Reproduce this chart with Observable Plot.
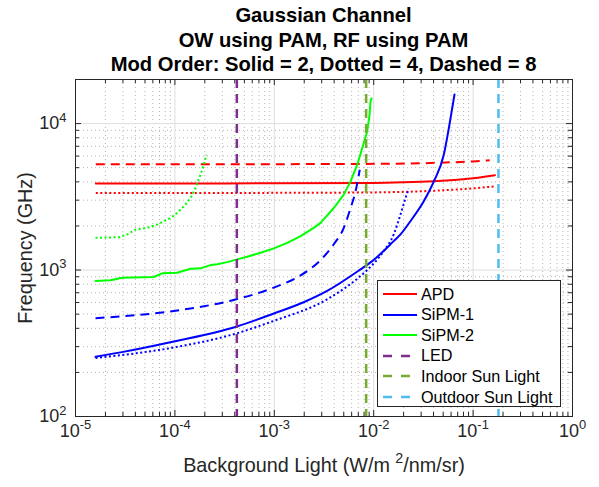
<!DOCTYPE html>
<html><head><meta charset="utf-8">
<script src="https://cdn.jsdelivr.net/npm/d3@7"></script>
<script src="https://cdn.jsdelivr.net/npm/@observablehq/plot@0.6"></script>
<style>
body{margin:0;background:#fff;font-family:"Liberation Sans",Arial,Helvetica,sans-serif;}
#wrap{position:relative;width:599px;height:487px;overflow:hidden;}
#title{position:relative;height:74px;}
#title div{position:absolute;left:75px;width:497px;text-align:center;white-space:nowrap;font-weight:bold;font-size:20.2px;line-height:25px;color:#000;}
#chart svg{display:block;}
#legend{position:absolute;left:377px;top:280px;width:184px;height:127px;border:1px solid #262626;background:#fff;box-sizing:border-box;}
#legend .row{position:absolute;left:0;height:20px;display:flex;align-items:center;font-size:16.2px;color:#000;white-space:nowrap;}
#legend svg{margin-left:5px;margin-right:4px;}
</style></head><body>
<div id="wrap">
  <div id="title"></div>
  <div id="chart"></div>
  <div id="legend"></div>
</div>
<script>
// ---------- text ----------
const titleLines = ["Gaussian Channel", "OW using PAM, RF using PAM", "Mod Order: Solid = 2, Dotted = 4, Dashed = 8"];
const xLabel = "Background Light (W/m ^{2}/nm/sr)";
const yLabel = "Frequency (GHz)";
const xMajor = [1e-5, 1e-4, 1e-3, 1e-2, 1e-1, 1];
const xMajorLabels = ["10^{-5}", "10^{-4}", "10^{-3}", "10^{-2}", "10^{-1}", "10^{0}"];
const yMajor = [1e2, 1e3, 1e4];
const yMajorLabels = ["10^{2}", "10^{3}", "10^{4}"];
const minorMultipliers = [2, 3, 4, 5, 6, 7, 8, 9];

// ---------- data: [background light, frequency] ----------
const apdSolid = [[1.6e-5,3905],[1e-4,3905],[1e-3,3910],[1e-2,3930],[2e-2,3970],[4e-2,4040],[7e-2,4140],[0.1,4230],[0.13,4330],[0.166,4440]];
const apdDotted = [[1.6e-5,3360],[1e-4,3360],[1e-3,3365],[1e-2,3390],[3e-2,3450],[6e-2,3530],[0.1,3610],[0.166,3730]];
const apdDashed = [[1.6e-5,5280],[1e-4,5280],[1e-3,5285],[1e-2,5310],[3e-2,5360],[6e-2,5440],[0.1,5520],[0.147,5610]];

const sipm1Solid = [[1.59e-5,256],[2.84e-5,274],[9.75e-5,325],[4.14e-4,410],[9.9e-4,505],[2e-3,605],[3.4e-3,720],[7.36e-3,1010],[9.66e-3,1150],[0.0159,1575],[0.0186,1750],[0.0234,2155],[0.0319,2945],[0.0403,4030],[0.0507,6120],[0.057,9290],[0.0616,12700],[0.065,15800]];
const sipm1Dotted = [[1.59e-5,251],[9.75e-5,296],[4.14e-4,369],[9.9e-4,450],[3.4e-3,631],[7.36e-3,910],[8.6e-3,1000],[0.0126,1345],[0.0159,1750],[0.0186,2390],[0.0209,3100],[0.0225,3600]];
const sipm1Dashed = [[1.59e-5,469],[9.75e-5,526],[4.14e-4,631],[9.9e-4,759],[1.84e-3,920],[2.92e-3,1170],[3.97e-3,1500],[5.0e-3,1940],[5.85e-3,2650],[6.56e-3,3440],[7.24e-3,4840]];

const sipm2Solid = [[1.59e-5,842],[2.25e-5,851],[2.95e-5,887],[6.14e-5,896],[7.44e-5,950],[1.05e-4,959],[1.44e-4,1021],[1.81e-4,1027],[2.28e-4,1081],[2.67e-4,1094],[3.36e-4,1133],[4.24e-4,1183],[5.33e-4,1231],[7.26e-4,1312],[9.89e-4,1405],[1.35e-3,1534],[1.84e-3,1703],[2.49e-3,1940],[2.92e-3,2098],[3.97e-3,2653],[5.0e-3,3273],[5.85e-3,4030],[6.83e-3,5236],[7.66e-3,6792],[8.6e-3,8825],[9.08e-3,11450],[9.29e-3,14100],[9.51e-3,14860]];
const sipm2Dotted = [[1.59e-5,1660],[2.73e-5,1676],[3.31e-5,1749],[4.02e-5,1891],[5.26e-5,1940],[6.64e-5,2046],[9.04e-5,2269],[1.01e-4,2393],[1.23e-4,2725],[1.44e-4,3104],[1.61e-4,3631],[1.81e-4,4477],[1.95e-4,5236],[2.08e-4,6124]];

const lightNames = ["LED", "Indoor Sun Light", "Outdoor Sun Light"];
const lightLevels = [4.2e-4, 8.4e-3, 0.18];
const lightColors = ["#7E2F8E", "#77AC30", "#4DBEEE"];

const detectorNames = ["APD", "SiPM-1", "SiPM-2"];
const detectorColors = ["#FF0000", "#0000FF", "#00FF00"];

// ---------- title ----------
titleLines.forEach((t, i) => {
  const d = document.createElement("div");
  d.textContent = t;
  d.style.top = (3 + i * 24.5) + "px";
  document.getElementById("title").appendChild(d);
});

// ---------- chart ----------
const W = 599, H = 413, mT = 5, mB = 71, mL = 75, mR = 27;
const PH = H - mT - mB, PW = W - mL - mR;
const xMinor = [], yMinor = [];
for (const dec of xMajor.slice(0, -1)) for (const k of minorMultipliers) xMinor.push(k * dec);
for (const dec of yMajor) for (const k of minorMultipliers) { const v = k * dec; if (v < 20000) yMinor.push(v); }

const seriesDefs = [
  [apdSolid, 0, null], [apdDotted, 0, "2,2.5"], [apdDashed, 0, "9,6"],
  [sipm1Solid, 1, null], [sipm1Dotted, 1, "2,2.5"], [sipm1Dashed, 1, "9,6"],
  [sipm2Solid, 2, null], [sipm2Dotted, 2, "2,2.5"]
];
const lineMarks = seriesDefs.map(([data, c, dash]) => Plot.line(data, {
  x: d => d[0], y: d => d[1], stroke: detectorColors[c], strokeWidth: 2,
  strokeDasharray: dash, strokeLinecap: dash ? "butt" : "round",
  curve: c === 2 ? "linear" : "monotone-x"
}));

const ink = "#262626";
const svg = Plot.plot({
  width: W, height: H, marginTop: mT, marginBottom: mB, marginLeft: mL, marginRight: mR,
  x: {type: "log", domain: [1e-5, 1], axis: null},
  y: {type: "log", domain: [100, 20000], axis: null},
  style: {fontFamily: "'Liberation Sans', Arial, sans-serif", color: ink, background: "white", overflow: "visible"},
  marks: [
    Plot.ruleX(xMinor, {stroke: "#b5b5b5", strokeDasharray: "1,3"}),
    Plot.ruleY(yMinor, {stroke: "#b5b5b5", strokeDasharray: "1,3"}),
    Plot.ruleX(xMajor, {stroke: "#dedede"}),
    Plot.ruleY(yMajor, {stroke: "#dedede"}),
    ...lineMarks,
    Plot.ruleX(lightLevels, {x: d => d, stroke: (d, i) => lightColors[i], strokeWidth: 2.5, strokeDasharray: "9,6"}),
    Plot.frame({stroke: ink}),
    // inward ticks, all four sides
    Plot.ruleX(xMajor, {stroke: ink, insetTop: PH - 6}),
    Plot.ruleX(xMajor, {stroke: ink, insetBottom: PH - 6}),
    Plot.ruleX(xMinor, {stroke: ink, insetTop: PH - 4}),
    Plot.ruleX(xMinor, {stroke: ink, insetBottom: PH - 4}),
    Plot.ruleY(yMajor, {stroke: ink, insetRight: PW - 6}),
    Plot.ruleY(yMajor, {stroke: ink, insetLeft: PW - 6}),
    Plot.ruleY(yMinor, {stroke: ink, insetRight: PW - 4}),
    Plot.ruleY(yMinor, {stroke: ink, insetLeft: PW - 4}),
    // tick labels
    Plot.text(xMajor, {x: d => d, text: (d, i) => xMajorLabels[i], frameAnchor: "bottom", dy: 20, fontSize: 18, fill: ink}),
    Plot.text(yMajor, {y: d => d, text: (d, i) => yMajorLabels[i], frameAnchor: "left", dx: -9, textAnchor: "end", fontSize: 18, fill: ink}),
    // axis labels
    Plot.text([xLabel], {frameAnchor: "bottom", dy: 55, fontSize: 19.8, fill: ink}),
    Plot.text([yLabel], {frameAnchor: "left", dx: -50, rotate: -90, textAnchor: "middle", fontSize: 19.8, fill: ink})
  ]
});
document.getElementById("chart").appendChild(svg);

// superscripts: "a^{b}c"
d3.select(svg).selectAll("text").each(function() {
  const t = this.textContent;
  const m = t.match(/^(.*)\^\{(.*?)\}(.*)$/);
  if (!m) return;
  const fs = parseFloat(getComputedStyle(this).fontSize) || 18;
  const sel = d3.select(this);
  sel.text("");
  sel.append("tspan").text(m[1]);
  sel.append("tspan").attr("dy", -0.42 * fs).attr("font-size", 0.72 * fs).text(m[2]);
  if (m[3]) sel.append("tspan").attr("dy", 0.42 * fs).text(m[3]);
});

// ---------- legend ----------
const legendItems = [
  ...detectorNames.map((n, i) => ({name: n, color: detectorColors[i], dash: null})),
  ...lightNames.map((n, i) => ({name: n, color: lightColors[i], dash: "9,9"}))
];
const leg = document.getElementById("legend");
legendItems.forEach((it, i) => {
  const row = document.createElement("div");
  row.className = "row";
  row.style.top = (3 + i * 20.6) + "px";
  const ns = "http://www.w3.org/2000/svg";
  const s = document.createElementNS(ns, "svg");
  s.setAttribute("width", 34); s.setAttribute("height", 6);
  const l = document.createElementNS(ns, "line");
  l.setAttribute("x1", 0); l.setAttribute("x2", 34); l.setAttribute("y1", 3); l.setAttribute("y2", 3);
  l.setAttribute("stroke", it.color); l.setAttribute("stroke-width", it.dash ? 2.5 : 2);
  if (it.dash) l.setAttribute("stroke-dasharray", it.dash);
  s.appendChild(l);
  row.appendChild(s);
  const sp = document.createElement("span");
  sp.textContent = it.name;
  row.appendChild(sp);
  leg.appendChild(row);
});
</script>
</body></html>
